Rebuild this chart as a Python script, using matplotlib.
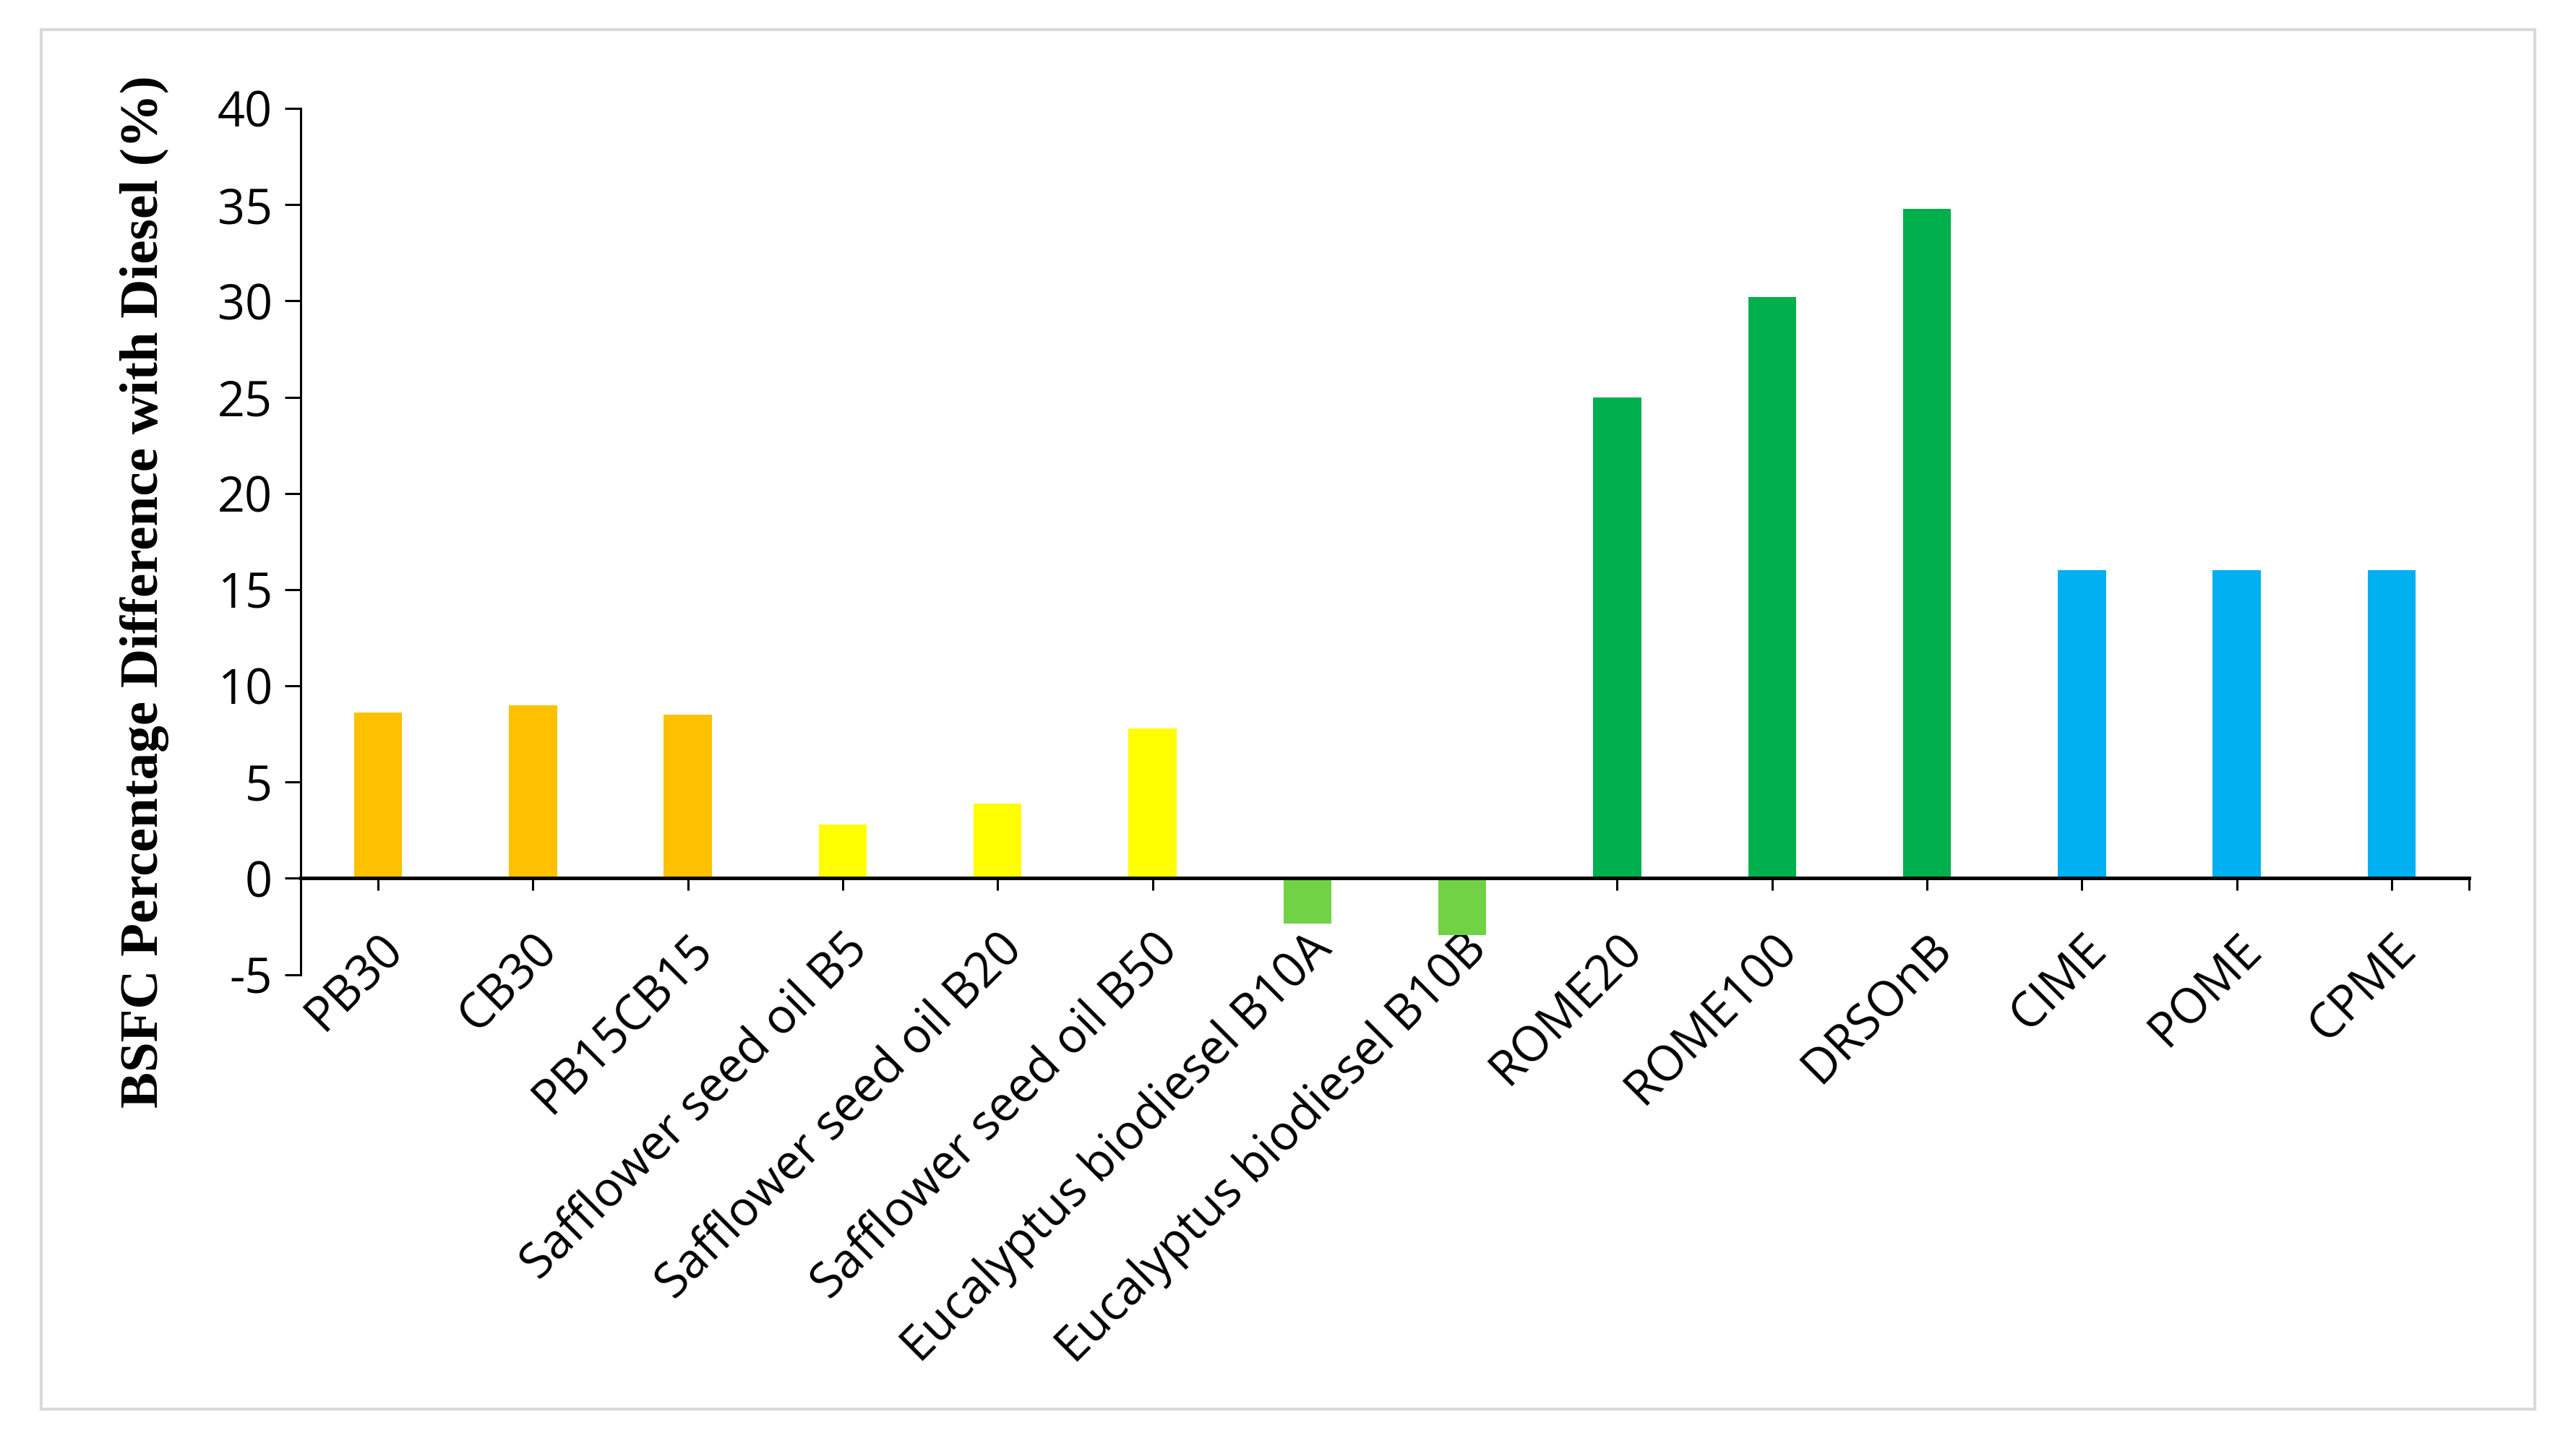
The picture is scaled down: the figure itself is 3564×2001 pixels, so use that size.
import numpy as np
import matplotlib
matplotlib.use("Agg")
import matplotlib.pyplot as plt
from matplotlib.patches import Rectangle

# data
fuels = ["PB30", "CB30", "PB15CB15", "Safflower seed oil B5", "Safflower seed oil B20",
         "Safflower seed oil B50", "Eucalyptus biodiesel B10A", "Eucalyptus biodiesel B10B",
         "ROME20", "ROME100", "DRSOnB", "CIME", "POME", "CPME"]
bsfc_diff = [8.6, 9.0, 8.5, 2.8, 3.9, 7.8, -2.35, -2.95, 25.0, 30.2, 34.8, 16.0, 16.0, 16.0]
bar_colors = ["#FFC000", "#FFC000", "#FFC000", "#FFFF00", "#FFFF00", "#FFFF00",
              "#70D244", "#70D244", "#00B04C", "#00B04C", "#00B04C", "#00B0F0", "#00B0F0", "#00B0F0"]
yticks = [-5, 0, 5, 10, 15, 20, 25, 30, 35, 40]

plt.rcParams['axes.unicode_minus'] = False
tick_font = ['Open Sans', 'DejaVu Sans']

fig = plt.figure(figsize=(17.82, 10.005), dpi=200)
ax = fig.add_axes([0.1167, 0.326, 0.8418, 0.599])

x = np.arange(len(fuels))
ax.bar(x, bsfc_diff, width=0.31, color=bar_colors, zorder=2)

ax.set_xlim(-0.5, len(fuels) - 0.5)
ax.set_ylim(-5, 40)
ax.set_yticks(yticks)
ax.set_yticklabels([str(v) for v in yticks], fontsize=24, family=tick_font)

ax.spines['top'].set_visible(False)
ax.spines['right'].set_visible(False)
ax.spines['bottom'].set_position(('data', 0))
ax.spines['bottom'].set_linewidth(1.8)
ax.spines['left'].set_linewidth(1.1)
ax.tick_params(axis='y', direction='out', length=8, width=1.1, pad=6)

# category ticks plus a closing tick at the right end
ax.set_xticks(list(x) + [len(fuels) - 0.5])
ax.set_xticklabels(fuels + [""], rotation=45, ha='right', rotation_mode='anchor',
                   fontsize=24, family=tick_font)
ax.tick_params(axis='x', direction='out', length=6, width=1.1, pad=17)

fig.text(0.056, 0.591, "BSFC Percentage Difference with Diesel (%)", rotation=90,
         ha='center', va='center', fontsize=27, fontweight='bold', family='Liberation Serif')

# light grey frame round the chart
fig.patches.append(Rectangle((57 / 3564, 1 - 1950 / 2001), (3507 - 57) / 3564, (1950 - 41) / 2001,
                             transform=fig.transFigure, fill=False, edgecolor='#d9d9d9', linewidth=1.5))

fig.savefig("out.png", dpi=200)
